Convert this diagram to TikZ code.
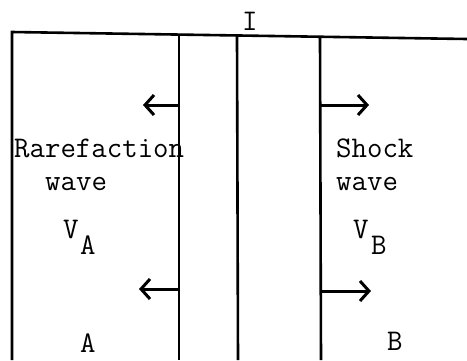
\documentclass[tikz,border=0pt]{standalone}
\usetikzlibrary{arrows.meta}
\begin{document}
\begin{tikzpicture}[x=1pt,y=-1pt,
  wall/.style={line width=2.6pt},
  flow/.style={line width=3pt,-{Straight Barb[length=9pt,width=20pt]}},
  lbl/.style={inner sep=0pt,anchor=base west,font=\ttfamily\fontsize{30}{32}\selectfont}]
\useasboundingbox (0,0) rectangle (467,360);
% frame
\coordinate (tl) at (12,32);
\coordinate (tr) at (467,39);
\coordinate (bl) at (12,360);
\draw[wall] (tr) -- (tl) -- (bl);
\coordinate (r1t) at (179,35);
\coordinate (r1b) at (179,360);
\coordinate (ct) at (237,36);
\coordinate (cb) at (238,360);
\coordinate (st) at (320,37);
\coordinate (sb) at (321,360);
\draw[wall] (r1t) -- (r1b);
\draw[wall] (ct) -- (cb);
\draw[wall] (st) -- (sb);
% arrows
\coordinate (a1s) at (179,105);
\coordinate (a1e) at (143,105);
\coordinate (a2s) at (179,289);
\coordinate (a2e) at (139,289);
\coordinate (a3s) at (320,105);
\coordinate (a3e) at (369,105);
\coordinate (a4s) at (321,291);
\coordinate (a4e) at (371,291);
\draw[flow] (a1s) -- (a1e);
\draw[flow] (a2s) -- (a2e);
\draw[flow] (a3s) -- (a3e);
\draw[flow] (a4s) -- (a4e);
% labels
\node[lbl] (I) at (242,30) {I};
\node[lbl] (rare) at (14,157) {Rarefaction};
\node[lbl] (rw) at (45,190) {wave};
\node[lbl] (sh) at (336,157) {Shock};
\node[lbl] (sw) at (336,190) {wave};
\node[lbl] (va) at (63,238) {V};
\node[lbl] (vas) at (80,254) {A};
\node[lbl] (vb) at (353,238) {V};
\node[lbl] (vbs) at (371,254) {B};
\node[lbl] (A) at (80,352) {A};
\node[lbl] (B) at (387,350) {B};
\end{tikzpicture}
\end{document}
